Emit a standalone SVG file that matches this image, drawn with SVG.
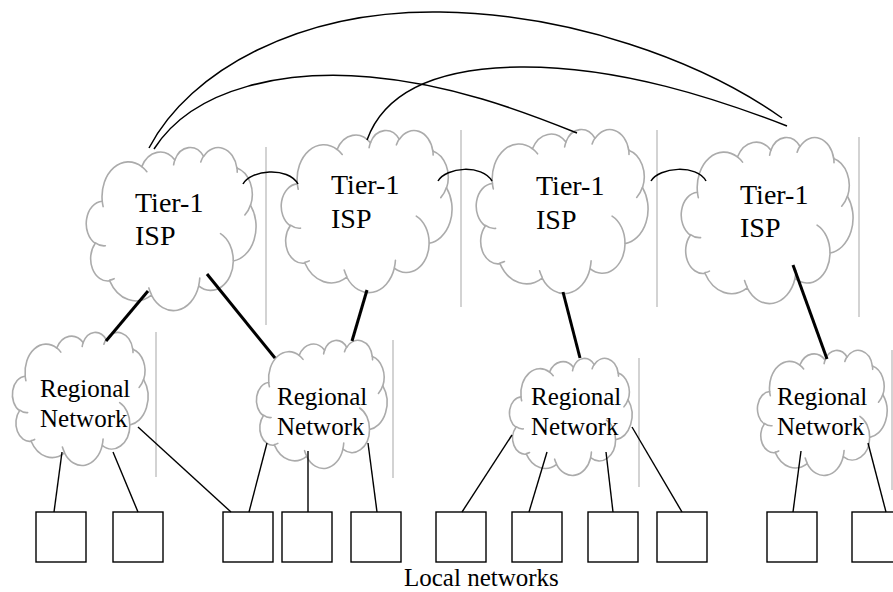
<svg xmlns="http://www.w3.org/2000/svg" xmlns:xlink="http://www.w3.org/1999/xlink" width="893" height="592" viewBox="0 0 893 592">
  <style>
    .bg { fill: #ffffff; }
    .cloud { fill: #ffffff; stroke: #ababab; stroke-width: 1.6; stroke-linejoin: round; }
    .curl { fill: none; stroke: #ababab; stroke-width: 1.6; stroke-linecap: round; }
    .edge { stroke: #c4c4c4; stroke-width: 1.5; }
    text { font-family: 'Liberation Serif', 'Times New Roman', serif; fill: #000000; }
    .tier { font-size: 28px; }
    .region { font-size: 25px; }
    .box { fill: #ffffff; stroke: #000000; stroke-width: 1.4; }
    .peer { fill: none; stroke: #000000; stroke-width: 1.5; }
    .up { stroke: #000000; stroke-width: 3; stroke-linecap: butt; }
    .down { stroke: #000000; stroke-width: 1.4; }
  </style>
  <defs>
    <!-- cloud outline in a 100x100 box (eleven lobes plus inner creases), scaled per node -->
    <g id="cloud">
      <path class="cloud" vector-effect="non-scaling-stroke" d="M9.03,33.26 A15.63,21.27 0 0 1 32.42,12.04 A12.35,16.82 0 0 1 51.98,7.94 A10.10,13.76 0 0 1 69.05,5.73 A11.24,15.27 0 0 1 88.69,12.89 A12.35,16.84 0 0 1 96.79,35.78 A15.68,21.34 0 0 1 86.57,69.91 A13.39,18.21 0 0 1 66.09,85.21 A15.63,21.33 0 0 1 38.14,90.89 A17.87,24.41 0 0 1 13.42,82.11 A10.09,13.70 0 0 1 4.87,59.14 A10.06,13.76 0 0 1 9.03,33.26 Z"/>
      <path class="curl" vector-effect="non-scaling-stroke" d="M10.86,60.60 A10.06,13.76 0 0 1 5.00,58.75 M16.04,80.78 A10.09,13.70 0 0 1 13.47,81.67 M38.14,90.49 A15.63,21.33 0 0 1 36.59,86.46 M66.73,80.44 A15.63,21.33 0 0 1 66.11,84.86 M79.00,53.13 A13.39,18.21 0 0 1 86.53,69.65 M96.75,35.54 A12.35,16.84 0 0 1 93.40,41.73 M88.71,12.56 A11.24,15.27 0 0 1 88.89,15.49 M67.31,9.15 A11.24,15.27 0 0 1 69.03,5.42 M51.25,10.93 A10.10,13.76 0 0 1 52.08,7.72 M32.41,12.02 A15.63,21.27 0 0 1 35.42,15.14 M9.55,36.55 A15.63,21.27 0 0 1 9.02,33.27"/>
    </g>
  </defs>

  <rect class="bg" x="0" y="0" width="893" height="592"/>

  <!-- separators beside each cloud -->
  <g id="separators">
    <line class="edge" x1="266" y1="147" x2="266" y2="325"/>
    <line class="edge" x1="461" y1="130" x2="461" y2="307"/>
    <line class="edge" x1="657" y1="130" x2="657" y2="307"/>
    <line class="edge" x1="859" y1="137" x2="859" y2="317"/>
    <line class="edge" x1="156" y1="332" x2="156" y2="477"/>
    <line class="edge" x1="393" y1="340" x2="393" y2="478"/>
    <line class="edge" x1="639" y1="358" x2="639" y2="487"/>
    <line class="edge" x1="892" y1="350" x2="892" y2="490"/>
  </g>

  <!-- Tier-1 ISPs -->
  <g id="isp1">
    <use xlink:href="#cloud" transform="translate(87,147) scale(1.69,1.63)"/>
    <text class="tier" x="135" y="212">Tier-1</text>
    <text class="tier" x="135" y="245">ISP</text>
  </g>
  <g id="isp2">
    <use xlink:href="#cloud" transform="translate(282,130) scale(1.7,1.62)"/>
    <text class="tier" x="331" y="194">Tier-1</text>
    <text class="tier" x="331" y="228">ISP</text>
  </g>
  <g id="isp3">
    <use xlink:href="#cloud" transform="translate(477,129) scale(1.71,1.64)"/>
    <text class="tier" x="536" y="195">Tier-1</text>
    <text class="tier" x="536" y="229">ISP</text>
  </g>
  <g id="isp4">
    <use xlink:href="#cloud" transform="translate(682,137) scale(1.71,1.66)"/>
    <text class="tier" x="740" y="204">Tier-1</text>
    <text class="tier" x="740" y="237">ISP</text>
  </g>

  <!-- Regional networks -->
  <g id="regional1">
    <use xlink:href="#cloud" transform="translate(13,332) scale(1.35,1.33)"/>
    <text class="region" x="40" y="397">Regional</text>
    <text class="region" x="40" y="427">Network</text>
  </g>
  <g id="regional2">
    <use xlink:href="#cloud" transform="translate(257,340) scale(1.3,1.28)"/>
    <text class="region" x="277" y="405">Regional</text>
    <text class="region" x="277" y="435">Network</text>
  </g>
  <g id="regional3">
    <use xlink:href="#cloud" transform="translate(510,358) scale(1.22,1.17)"/>
    <text class="region" x="531" y="405">Regional</text>
    <text class="region" x="531" y="435">Network</text>
  </g>
  <g id="regional4">
    <use xlink:href="#cloud" transform="translate(758,350) scale(1.29,1.25)"/>
    <text class="region" x="777" y="405">Regional</text>
    <text class="region" x="777" y="435">Network</text>
  </g>

  <!-- Local networks -->
  <g id="local1"><rect class="box" x="36" y="512" width="50" height="50"/></g>
  <g id="local2"><rect class="box" x="113" y="512" width="50" height="50"/></g>
  <g id="local3"><rect class="box" x="223" y="512" width="50" height="50"/></g>
  <g id="local4"><rect class="box" x="282" y="512" width="50" height="50"/></g>
  <g id="local5"><rect class="box" x="351" y="512" width="50" height="50"/></g>
  <g id="local6"><rect class="box" x="436" y="512" width="50" height="50"/></g>
  <g id="local7"><rect class="box" x="512" y="512" width="50" height="50"/></g>
  <g id="local8"><rect class="box" x="588" y="512" width="50" height="50"/></g>
  <g id="local9"><rect class="box" x="657" y="512" width="50" height="50"/></g>
  <g id="local10"><rect class="box" x="767" y="512" width="50" height="50"/></g>
  <g id="local11"><rect class="box" x="852" y="512" width="50" height="50"/></g>

  <!-- links -->
  <g id="connectors">
    <!-- long-haul peering between Tier-1 ISPs -->
    <path class="peer" d="M149,148 C190,70 300,10 440,12 C570,14 700,60 782,118"/>
    <path class="peer" d="M154,149 C195,85 290,70 370,77 C450,84 520,110 577,133"/>
    <path class="peer" d="M367,140 C385,90 440,68 520,67 C620,66 720,100 787,126"/>
    <!-- neighbour peering -->
    <path class="peer" d="M243,184 C250,170 288,166 298,184"/>
    <path class="peer" d="M438,181 C446,167 482,164 492,181"/>
    <path class="peer" d="M651,181 C659,167 697,164 706,181"/>
    <!-- Tier-1 to regional -->
    <line class="up" x1="148" y1="291" x2="106" y2="341"/>
    <line class="up" x1="207" y1="274" x2="275" y2="358"/>
    <line class="up" x1="367" y1="290" x2="352" y2="341"/>
    <line class="up" x1="563" y1="292" x2="580" y2="358"/>
    <line class="up" x1="793" y1="265" x2="827" y2="359"/>
    <!-- regional to local -->
    <line class="down" x1="62" y1="452" x2="54" y2="512"/>
    <line class="down" x1="113" y1="452" x2="138" y2="512"/>
    <line class="down" x1="138" y1="427" x2="231" y2="512"/>
    <line class="down" x1="267" y1="443" x2="249" y2="512"/>
    <line class="down" x1="308" y1="451" x2="308" y2="512"/>
    <line class="down" x1="368" y1="443" x2="377" y2="512"/>
    <line class="down" x1="512" y1="435" x2="462" y2="512"/>
    <line class="down" x1="547" y1="452" x2="529" y2="512"/>
    <line class="down" x1="606" y1="452" x2="613" y2="512"/>
    <line class="down" x1="632" y1="427" x2="682" y2="512"/>
    <line class="down" x1="801" y1="451" x2="793" y2="512"/>
    <line class="down" x1="868" y1="443" x2="886" y2="512"/>
  </g>

  <text id="local-caption" class="region" x="404" y="586">Local networks</text>
</svg>
